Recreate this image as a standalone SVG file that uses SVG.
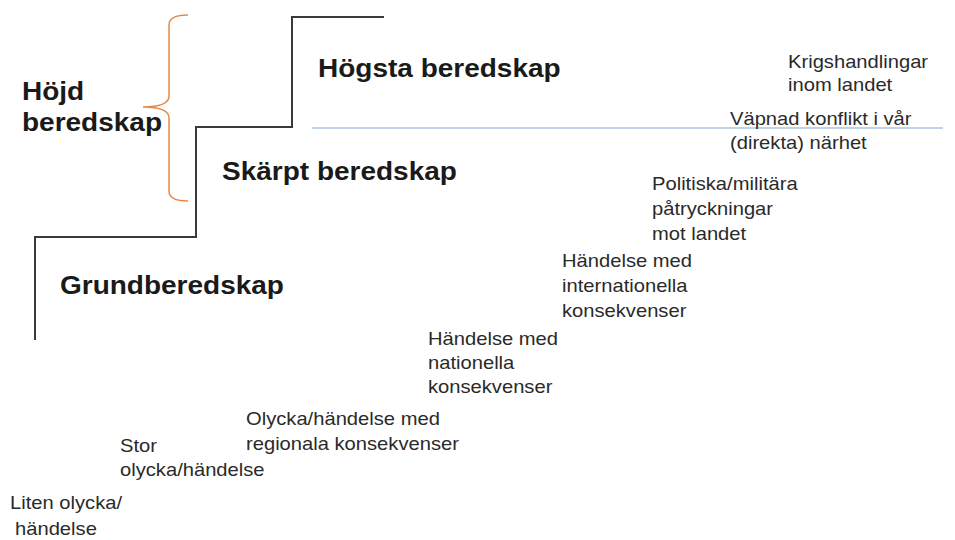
<svg xmlns="http://www.w3.org/2000/svg" width="955" height="540" viewBox="0 0 955 540">
<style>
.b{font-family:"Liberation Sans",Arial,sans-serif;font-weight:bold;font-size:25px;fill:#1a1a1a}
.r{font-family:"Liberation Sans",Arial,sans-serif;font-size:18px;fill:#2a2a2a}
.stair{fill:none;stroke:#3a3a3a;stroke-width:2}
</style>
<rect width="955" height="540" fill="#ffffff"/>
<g id="connectors">
<path class="stair" d="M35,340 V237 H196 V127 H292 V17 H384"/>
<line x1="312" y1="128" x2="943" y2="128" stroke="#a9c4df" stroke-width="1.5"/>
<path d="M188,15 Q169,15 169,25 V96 Q169,107 143,107 Q169,107 169,118 V191 Q169,201 188,201" fill="none" stroke="#e8894a" stroke-width="1.5"/>
</g>
<g id="hojd"><text class="b" transform="translate(22,100) scale(1.12,1)"><tspan x="0" y="0">Höjd</tspan><tspan x="0" y="31">beredskap</tspan></text></g>
<g id="hogsta"><text class="b" transform="translate(318,77) scale(1.12,1)">Högsta beredskap</text></g>
<g id="skarpt"><text class="b" transform="translate(222,180) scale(1.12,1)">Skärpt beredskap</text></g>
<g id="grund"><text class="b" transform="translate(60,294) scale(1.12,1)">Grundberedskap</text></g>
<g id="krig"><text class="r" transform="translate(788,68) scale(1.12,1)"><tspan x="0" y="0">Krigshandlingar</tspan><tspan x="0" y="23">inom landet</tspan></text></g>
<g id="vapnad"><text class="r" transform="translate(730,125) scale(1.12,1)"><tspan x="0" y="0">Väpnad konflikt i vår</tspan><tspan x="0" y="24">(direkta) närhet</tspan></text></g>
<g id="politiska"><text class="r" transform="translate(652,190) scale(1.12,1)"><tspan x="0" y="0">Politiska/militära</tspan><tspan x="0" y="25">påtryckningar</tspan><tspan x="0" y="50">mot landet</tspan></text></g>
<g id="internationella"><text class="r" transform="translate(562,267) scale(1.12,1)"><tspan x="0" y="0">Händelse med</tspan><tspan x="0" y="25">internationella</tspan><tspan x="0" y="50">konsekvenser</tspan></text></g>
<g id="nationella"><text class="r" transform="translate(428,345) scale(1.12,1)"><tspan x="0" y="0">Händelse med</tspan><tspan x="0" y="24">nationella</tspan><tspan x="0" y="48">konsekvenser</tspan></text></g>
<g id="regionala"><text class="r" transform="translate(246,425) scale(1.12,1)"><tspan x="0" y="0">Olycka/händelse med</tspan><tspan x="0" y="25">regionala konsekvenser</tspan></text></g>
<g id="stor"><text class="r" transform="translate(120,452) scale(1.12,1)"><tspan x="0" y="0">Stor</tspan><tspan x="0" y="24">olycka/händelse</tspan></text></g>
<g id="liten"><text class="r" transform="translate(10,509) scale(1.12,1)"><tspan x="0" y="0">Liten olycka/</tspan><tspan x="4.5" y="26">händelse</tspan></text></g>
</svg>
